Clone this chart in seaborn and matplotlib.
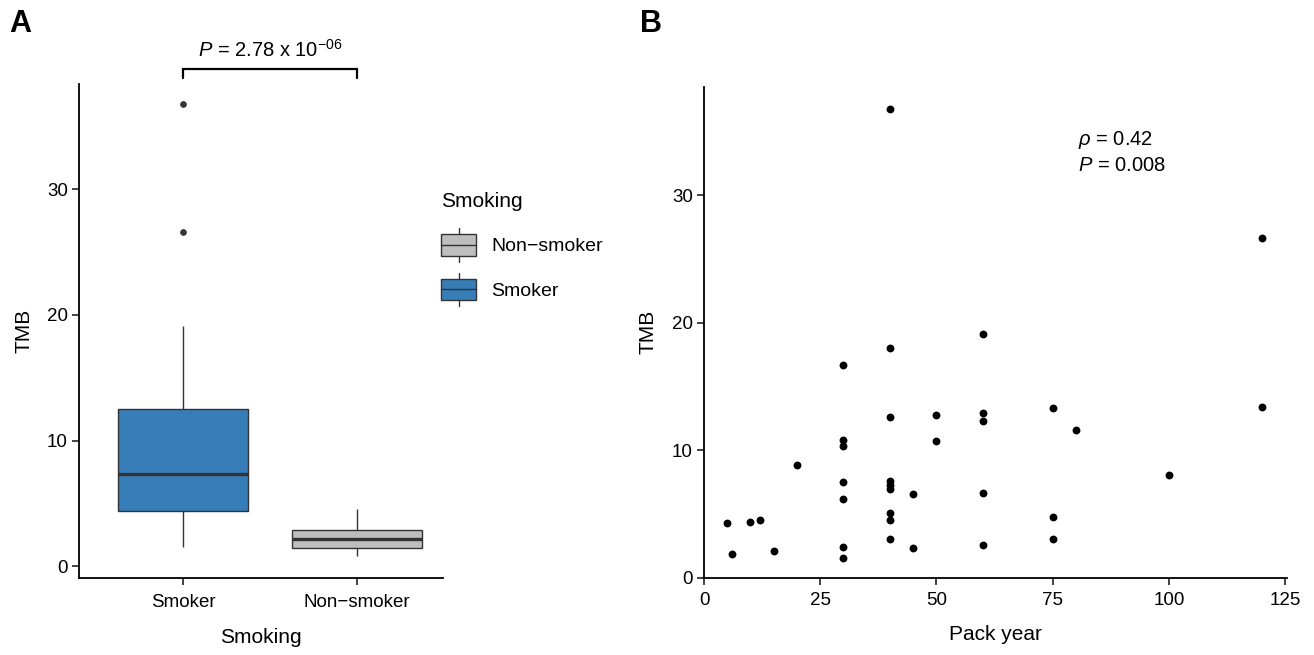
import matplotlib
matplotlib.use("Agg")
import matplotlib.pyplot as plt
from matplotlib.patches import Rectangle
from matplotlib.lines import Line2D
from matplotlib.legend_handler import HandlerBase
import numpy as np
import pandas as pd
import seaborn as sns

# ---- data ----
groups = ["Smoker", "Non\u2212smoker"]
group_colors = ["#377EB8", "#BEBEBE"]

pack_year = [5, 6, 10, 12, 15, 20,
             30, 30, 30, 30, 30, 30, 30,
             40, 40, 40, 40, 40, 40, 40, 40, 40,
             45, 45, 50, 50,
             60, 60, 60, 60, 60,
             75, 75, 75, 80, 100, 120, 120]
tmb_smoker = [4.25, 1.87, 4.4, 4.5, 2.08, 8.85,
              16.7, 10.8, 10.3, 7.5, 6.2, 2.4, 1.55,
              36.75, 18.0, 12.6, 7.55, 7.25, 6.95, 5.08, 4.5, 3.0,
              6.55, 2.3, 12.77, 10.75,
              19.1, 12.95, 12.25, 6.65, 2.58,
              13.3, 4.77, 3.0, 11.6, 8.04, 26.6, 13.37]
tmb_nonsmoker = [0.84, 1.2, 1.43, 1.9, 2.17, 2.5, 2.91, 3.6, 4.53]

y_ticks = [0, 10, 20, 30]
x_ticks_b = [0, 25, 50, 75, 100, 125]
p_wilcox = "2.78 x 10$^{-06}$"
rho_text = "0.42"
p_spearman = "0.008"

# ---- style ----
sns.set_theme(style="white")
plt.rcParams["font.family"] = ["Liberation Sans", "DejaVu Sans"]
plt.rcParams["mathtext.fontset"] = "custom"
plt.rcParams["mathtext.rm"] = "Liberation Sans"
plt.rcParams["mathtext.it"] = "Liberation Sans:italic"
plt.rcParams["mathtext.bf"] = "Liberation Sans:bold"
plt.rcParams["text.color"] = "black"
plt.rcParams["axes.labelcolor"] = "black"
plt.rcParams["xtick.color"] = "black"
plt.rcParams["ytick.color"] = "black"

W, H = 1314, 655
fig = plt.figure(figsize=(W / 100, H / 100), dpi=100)
fig.patch.set_facecolor("white")

def px_axes(x0, y_top, x1, y_bot):
    return fig.add_axes([x0 / W, 1 - y_bot / H, (x1 - x0) / W, (y_bot - y_top) / H])

axA = px_axes(79, 84, 443, 577.7)
axB = px_axes(704, 87, 1286.7, 577.7)

def style_axes(ax):
    for s in ["top", "right"]:
        ax.spines[s].set_visible(False)
    for s in ["left", "bottom"]:
        ax.spines[s].set_linewidth(1.3)
        ax.spines[s].set_color("black")
    ax.tick_params(axis="both", length=5, width=1.3, color="#333333",
                   labelsize=13.5, labelcolor="black", pad=3,
                   direction="out", bottom=True, left=True)
    ax.grid(False)

# ---- panel A: box plot ----
df_box = pd.DataFrame({
    "Smoking": [groups[0]] * len(tmb_smoker) + [groups[1]] * len(tmb_nonsmoker),
    "TMB": tmb_smoker + tmb_nonsmoker,
})
palette = dict(zip(groups, group_colors))
sns.boxplot(data=df_box, x="Smoking", y="TMB", hue="Smoking", order=groups,
            hue_order=groups, palette=palette, saturation=1, width=0.75,
            linecolor="#333333", linewidth=1.0, fliersize=3.8, legend=False,
            showcaps=False, ax=axA,
            medianprops={"linewidth": 2.4, "color": "#333333"},
            flierprops={"marker": "o", "markerfacecolor": "#333333",
                        "markeredgecolor": "#333333"})
style_axes(axA)
axA.set_xlim(-0.6, 1.494)
axA.set_ylim(-0.91, 38.37)
axA.set_yticks(y_ticks)
axA.set_xlabel("Smoking", fontsize=15, labelpad=12)
axA.set_ylabel("TMB", fontsize=15, labelpad=10)
axA.tick_params(axis="x", pad=7)

# significance bracket
axA.plot([0, 0, 1, 1], [38.82, 39.54, 39.54, 38.82], color="black", lw=1.6,
         clip_on=False, solid_joinstyle="miter")
axA.text(0.5, 41.05, r"$\mathit{P}$ = " + p_wilcox, ha="center", va="center",
         fontsize=14.5, clip_on=False)

# legend drawn with box-shaped keys
class BoxKeyHandler(HandlerBase):
    def __init__(self, face):
        super().__init__()
        self.face = face

    def create_artists(self, legend, orig_handle, xdescent, ydescent, width,
                       height, fontsize, trans):
        x0, y0 = -xdescent, -ydescent
        cx = x0 + width / 2
        stub = height * 0.3
        rect = Rectangle((x0, y0), width, height, facecolor=self.face,
                         edgecolor="#333333", lw=1.0, transform=trans)
        med = Line2D([x0, x0 + width], [y0 + height / 2] * 2, color="#333333",
                     lw=1.0, transform=trans)
        w_up = Line2D([cx, cx], [y0 + height, y0 + height + stub],
                      color="#333333", lw=1.0, transform=trans)
        w_dn = Line2D([cx, cx], [y0 - stub, y0], color="#333333", lw=1.0,
                      transform=trans)
        return [w_up, w_dn, rect, med]

leg_groups = [groups[1], groups[0]]
handles = [Rectangle((0, 0), 1, 1) for _ in leg_groups]
handler_map = {h: BoxKeyHandler(palette[g]) for h, g in zip(handles, leg_groups)}
leg = fig.legend(handles, leg_groups, handler_map=handler_map,
                 loc="upper left", bbox_to_anchor=(441 / W, 1 - 192 / H),
                 frameon=False, fontsize=14, title="Smoking",
                 title_fontsize=15, handlelength=1.8, handleheight=1.3,
                 labelspacing=1.2, handletextpad=0.8, borderpad=0,
                 borderaxespad=0)
leg._legend_box.align = "left"

# ---- panel B: scatter ----
df_sc = pd.DataFrame({"Pack year": pack_year, "TMB": tmb_smoker})
sns.scatterplot(data=df_sc, x="Pack year", y="TMB", color="black", s=32,
                linewidth=0, ax=axB)
style_axes(axB)
axB.set_xlim(0, 125.36)
axB.set_ylim(0, 38.47)
axB.set_xticks(x_ticks_b)
axB.set_yticks(y_ticks)
axB.set_xlabel("Pack year", fontsize=15, labelpad=12)
axB.set_ylabel("TMB", fontsize=15, labelpad=10)
axB.tick_params(axis="x", pad=5)
axB.text(80.4, 34.3, r"$\rho$ = " + rho_text, ha="left", va="center",
         fontsize=14.5)
axB.text(80.4, 32.35, r"$\mathit{P}$ = " + p_spearman, ha="left", va="center",
         fontsize=14.5)

# panel tags
fig.text(9 / W, 1 - 24 / H, "A", fontsize=22, fontweight="bold",
         ha="left", va="center")
fig.text(640 / W, 1 - 24 / H, "B", fontsize=22, fontweight="bold",
         ha="left", va="center")

fig.savefig("out.png", dpi=100, facecolor="white")
